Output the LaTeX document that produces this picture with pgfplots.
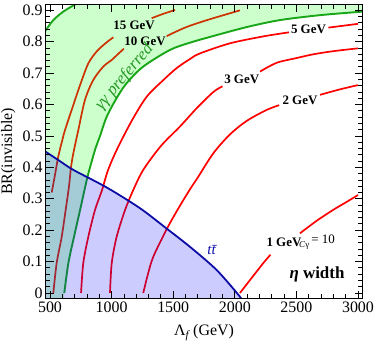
\documentclass[border=0pt]{standalone}
\usepackage{fontspec}
\setmainfont{Liberation Serif}
\usepackage{pgfplots}
\pgfplotsset{compat=1.18}
\definecolor{cred}{rgb}{1,0,0}
\definecolor{cgreen}{rgb}{0.1,0.65,0.1}
\definecolor{cblue}{rgb}{0.05,0.05,0.65}
\definecolor{tgreen}{rgb}{0.15,0.6,0.15}
\newcommand{\lbl}{\bfseries\fontsize{13}{15}\selectfont}

\begin{document}
\begin{tikzpicture}
\useasboundingbox (-46bp,-46bp) rectangle (328bp,298bp);
\begin{axis}[
  at={(0,0)},anchor=south west,
  scale only axis,width=316bp,height=293bp,
  xmin=467.5,xmax=3032.5,ymin=-0.016,ymax=0.917,
  xtick={500,1000,1500,2000,2500,3000},
  ytick={0,0.1,0.2,0.3,0.4,0.5,0.6,0.7,0.8,0.9},
  minor x tick num=4,minor y tick num=4,
  major tick length=7.5bp,minor tick length=4bp,
  tick style={black,line width=0.8bp},
  axis line style={line width=1bp},
  axis on top,
  /pgf/number format/assume math mode=true,
  tick label style={font=\fontsize{16}{18}\selectfont},
  x tick label style={/pgf/number format/1000 sep={}},
  y tick label style={/pgf/number format/fixed},
  label style={font=\fontsize{16}{18}\selectfont},
  xlabel={Λ\textsubscript{\itshape f} (GeV)},
  ylabel={BR(invisible)},
  xlabel style={at={(axis description cs:0.5,-0.119)},anchor=center},
  ylabel style={at={(axis description cs:-0.119,0.5)},anchor=center},
  every axis plot/.append style={line join=round},
]
% width contours (drawn first, the shaded regions go over them)
\addplot[cred,line width=1.7bp,smooth] coordinates {(514,0.320) (540,0.375) (567,0.434) (600,0.487) (622,0.519) (676,0.583) (744,0.662) (811,0.731) (879,0.769) (950,0.795) (1014,0.814)};
\addplot[cred,line width=1.7bp,smooth] coordinates {(1325,0.875) (1420,0.889) (1515,0.901)};
\addplot[cred,line width=1.7bp,smooth] coordinates {(527,0.0) (554,0.095) (595,0.179) (627,0.264) (654,0.339) (668,0.392) (684,0.434) (712,0.487) (730,0.519) (784,0.615) (851,0.678) (933,0.721) (1001,0.742) (1050,0.760) (1100,0.778)};
\addplot[cred,line width=1.7bp,smooth] coordinates {(1447,0.818) (1555,0.838) (1636,0.851) (1800,0.872) (2042,0.900)};
\addplot[cred,line width=1.7bp,smooth] coordinates {(752,0.0) (770,0.095) (811,0.179) (865,0.264) (920,0.325) (970,0.390) (1041,0.455) (1163,0.548) (1285,0.625) (1420,0.678) (1528,0.716) (1636,0.745) (1718,0.763) (1961,0.795) (2231,0.817) (2440,0.830)};
\addplot[cred,line width=1.7bp,smooth] coordinates {(2760,0.845) (2880,0.851) (3000,0.857)};
\addplot[cred,line width=1.7bp,smooth] coordinates {(987,0.0) (1001,0.095) (1041,0.179) (1109,0.264) (1176,0.328) (1257,0.392) (1400,0.468) (1555,0.530) (1690,0.588) (1826,0.640) (1900,0.658)};
\addplot[cred,line width=1.7bp,smooth] coordinates {(2205,0.705) (2340,0.733) (2500,0.748) (2637,0.760) (2800,0.770) (3000,0.779)};
\addplot[cred,line width=1.7bp,smooth] coordinates {(1257,0.0) (1295,0.060) (1339,0.116) (1447,0.203) (1540,0.268) (1636,0.330) (1700,0.368) (1826,0.445) (1961,0.505) (2097,0.548) (2259,0.583) (2360,0.598)};
\addplot[cred,line width=1.7bp,smooth] coordinates {(2692,0.631) (2850,0.648) (3000,0.662)};
\addplot[cred,line width=1.7bp,smooth] coordinates {(2042,0.0) (2123,0.041) (2231,0.095) (2290,0.122)};
\addplot[cred,line width=1.7bp,smooth] coordinates {(2529,0.190) (2665,0.230) (2800,0.265) (2908,0.290) (3000,0.312)};
% gamma gamma preferred band
\addplot[draw=none,fill=green,fill opacity=0.2] coordinates {(455,-0.03) (455,0.830) (468,0.838) (527,0.869) (608,0.896) (716,0.922) (760,0.935) (3050,0.935) (3050,0.897) (3040,0.896) (2700,0.885) (2367,0.869) (2100,0.847) (1823,0.818) (1636,0.797) (1474,0.774) (1257,0.721) (1122,0.668) (1040,0.620) (960,0.561) (906,0.500) (865,0.455) (811,0.380) (784,0.335) (744,0.264) (695,0.179) (649,0.095) (616,0.0) (612,-0.03)};
\addplot[cgreen,line width=1.9bp,smooth] coordinates {(455,0.830) (468,0.838) (527,0.869) (608,0.896) (716,0.922) (760,0.935)};
\addplot[cgreen,line width=1.9bp,smooth] coordinates {(616,0.0) (649,0.095) (695,0.179) (744,0.264) (784,0.335) (811,0.380) (865,0.455) (906,0.500) (960,0.561) (1040,0.620) (1122,0.668) (1257,0.721) (1474,0.774) (1636,0.797) (1823,0.818) (2100,0.847) (2367,0.869) (2700,0.885) (3040,0.896)};
% ttbar region
\addplot[draw=none,fill=blue,fill opacity=0.2] coordinates {(455,-0.03) (455,0.453) (468,0.449) (580,0.420) (689,0.392) (960,0.336) (1230,0.270) (1447,0.205) (1636,0.147) (1853,0.073) (2042,-0.012) (2050,-0.03)};
\addplot[cblue,line width=1.8bp,smooth] coordinates {(455,0.453) (468,0.449) (580,0.420) (689,0.392) (960,0.336) (1230,0.270) (1447,0.205) (1636,0.147) (1853,0.073) (2042,-0.012) (2046,-0.02)};
% labels
\node[font=\lbl] at (axis cs:1182,0.851) {15 GeV};
\node[font=\lbl] at (axis cs:1271,0.803) {10 GeV};
\node[font=\lbl] at (axis cs:2598,0.840) {5 GeV};
\node[font=\lbl] at (axis cs:2056,0.680) {3 GeV};
\node[font=\lbl] at (axis cs:2529,0.615) {2 GeV};
\node[font=\lbl] at (axis cs:2399,0.162) {1 GeV};
\node[anchor=west,inner sep=0pt,font=\fontsize{13}{15}\selectfont] at (axis cs:2521,0.162) {\raisebox{-0.55ex}{\fontsize{9}{10}\selectfont\textit{C}γ}\,= 10};
\node[font=\bfseries\fontsize{17}{20}\selectfont] at (axis cs:2667,0.060) {\textit{η} width};
\node[text=cblue,font=\itshape\fontsize{15}{17}\selectfont] at (axis cs:1812,0.137) {t\={t}};
\node[text=tgreen,rotate=50,inner sep=1pt,font=\itshape\fontsize{17}{19}\selectfont] at (axis cs:1105,0.688) {γγ preferred};
\end{axis}
\end{tikzpicture}
\end{document}
